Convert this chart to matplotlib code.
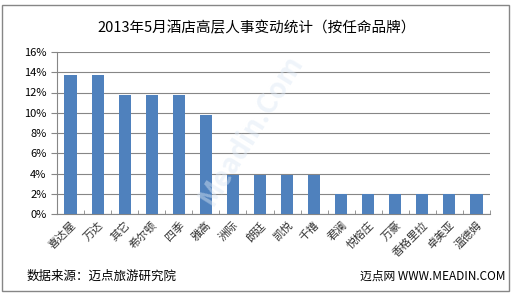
import matplotlib
matplotlib.use('Agg')
from matplotlib import pyplot as plt
from matplotlib.patches import Rectangle

plt.rcParams['font.family'] = ['Noto Sans CJK SC', 'DejaVu Sans']

brands = ['喜达屋', '万达', '其它', '希尔顿', '四季', '雅高', '洲际', '朗廷',
          '凯悦', '千禧', '君澜', '悦榕庄', '万豪', '香格里拉', '卓美亚', '温德姆']
shares = [13.7, 13.7, 11.8, 11.8, 11.8, 9.8, 3.9, 3.9,
          3.9, 3.9, 2.0, 2.0, 2.0, 2.0, 2.0, 2.0]
yticks = [0, 2, 4, 6, 8, 10, 12, 14, 16]

fig = plt.figure(figsize=(5.13, 2.95), dpi=100)
ax = fig.add_axes([57/513, 1 - 214/295, (490-57)/513, (214-52)/295])

x = range(len(brands))
ax.bar(x, shares, width=0.45, color='#4F81BD', zorder=3)
ax.set_xlim(-0.5, len(brands) - 0.5)
ax.set_ylim(0, 16)
ax.set_yticks(yticks)
ax.set_yticklabels(['%d%%' % v for v in yticks], fontsize=8)
ax.set_xticks(list(x))
ax.set_xticklabels(brands, rotation=45, ha='right', rotation_mode='anchor', fontsize=8, color='#333333')
ax.set_xticks([i - 0.5 for i in range(len(brands) + 1)], minor=True)
ax.tick_params(axis='x', which='major', length=0, pad=4)
ax.tick_params(axis='x', which='minor', length=3, color='#868686', direction='in')
ax.tick_params(axis='y', length=4, color='#868686', direction='out')
ax.grid(axis='y', color='#868686', linewidth=0.8, zorder=0)
for s in ['top', 'right']:
    ax.spines[s].set_visible(False)
ax.spines['left'].set_color('#868686')
ax.spines['bottom'].set_color('#868686')

fig.text(0.5, 1 - 28/295, '2013年5月酒店高层人事变动统计（按任命品牌）', ha='center', va='center', fontsize=10.5)
fig.text(27/513, 1 - 276/295, '数据来源：迈点旅游研究院', ha='left', va='center', fontsize=9)
fig.text(505/513, 1 - 276/295, '迈点网 WWW.MEADIN.COM', ha='right', va='center', fontsize=8.5)
fig.text(0.49, 0.56, 'Meadin.Com', ha='center', va='center', fontsize=20, rotation=58,
         color='#dce8f5', alpha=0.45, fontweight='bold', zorder=10)

fig.patches.append(Rectangle((2/513, 4/295), 507/513, 286/295, transform=fig.transFigure,
                             fill=False, edgecolor='#868686', linewidth=1))

fig.savefig('out.png', dpi=100)
